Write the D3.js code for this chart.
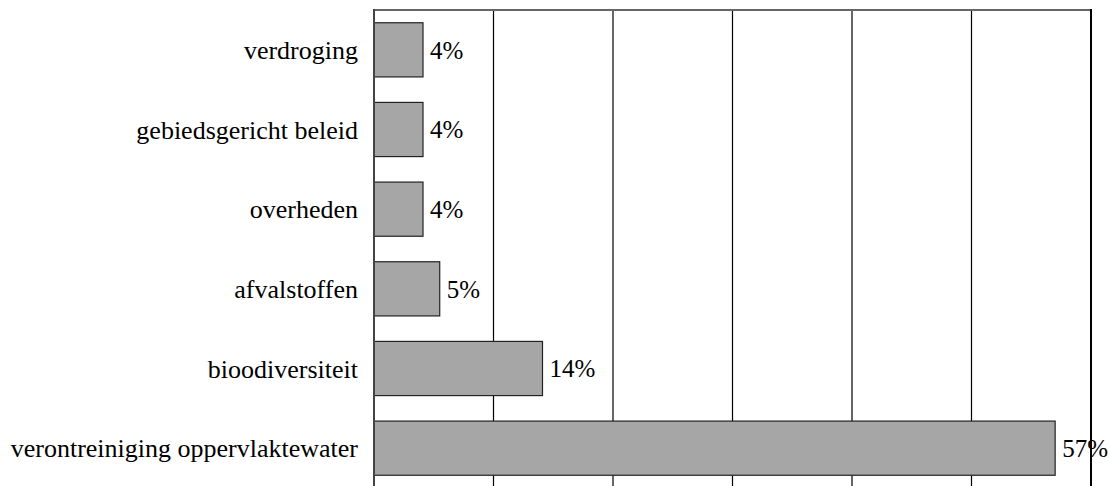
<!DOCTYPE html>
<html>
<head>
<meta charset="utf-8">
<script src="https://cdn.jsdelivr.net/npm/d3@7"></script>
<style>
  body { margin: 0; background: #fff; }
  text { font-family: "Liberation Serif", "DejaVu Serif", serif; }
</style>
</head>
<body>
<div id="chart"></div>
<script>
"use strict";

var categories = ["verdroging", "gebiedsgericht beleid", "overheden", "afvalstoffen", "bioodiversiteit", "verontreiniging oppervlaktewater"];
var values = [4.1, 4.1, 4.1, 5.5, 14.1, 57.0];
var valueLabels = ["4%", "4%", "4%", "5%", "14%", "57%"];
var ticks = [0, 10, 20, 30, 40, 50, 60];

window.addEventListener('load', function () {
	var W = 1109, H = 486;
	var left = 374, right = 1091, top = 10, bottom = 488;

	var svg = d3.select("#chart").append("svg")
		.attr("width", W)
		.attr("height", H);

	var x = d3.scaleLinear().domain([0, 60]).range([left, right]);
	var y = d3.scaleBand().domain(categories).range([top, bottom]).paddingInner(0.32).paddingOuter(0.16);

	// gridlines
	svg.append("g").selectAll("line")
		.data(ticks.slice(1, -1))
		.enter().append("line")
		.attr("x1", function (d) { return x(d); })
		.attr("x2", function (d) { return x(d); })
		.attr("y1", top)
		.attr("y2", H)
		.attr("stroke", "#000")
		.attr("stroke-width", 1.2);

	// frame: top and right
	svg.append("line")
		.attr("x1", left).attr("x2", right)
		.attr("y1", top).attr("y2", top)
		.attr("stroke", "#666").attr("stroke-width", 2);
	svg.append("line")
		.attr("x1", right).attr("x2", right)
		.attr("y1", top - 1).attr("y2", H)
		.attr("stroke", "#000").attr("stroke-width", 2);

	// bars
	svg.append("g").selectAll("rect")
		.data(values)
		.enter().append("rect")
		.attr("x", x(0))
		.attr("y", function (d, i) { return y(categories[i]); })
		.attr("width", function (d) { return x(d) - x(0); })
		.attr("height", y.bandwidth())
		.attr("fill", "#a6a6a6")
		.attr("stroke", "#222")
		.attr("stroke-width", 1.2);

	// left axis line
	svg.append("line")
		.attr("x1", left).attr("x2", left)
		.attr("y1", top - 1).attr("y2", H)
		.attr("stroke", "#444").attr("stroke-width", 2);

	// value labels
	svg.append("g").selectAll("text")
		.data(values)
		.enter().append("text")
		.attr("x", function (d) { return x(d) + 7; })
		.attr("y", function (d, i) { return y(categories[i]) + y.bandwidth() / 2; })
		.attr("dy", "0.35em")
		.attr("font-size", "25px")
		.attr("fill", "#000")
		.text(function (d, i) { return valueLabels[i]; });

	// category labels
	svg.append("g").selectAll("text")
		.data(categories)
		.enter().append("text")
		.attr("x", left - 16)
		.attr("y", function (d) { return y(d) + y.bandwidth() / 2; })
		.attr("dy", "0.35em")
		.attr("text-anchor", "end")
		.attr("font-size", "26px")
		.attr("fill", "#000")
		.text(function (d) { return d; });
});
</script>
</body>
</html>
